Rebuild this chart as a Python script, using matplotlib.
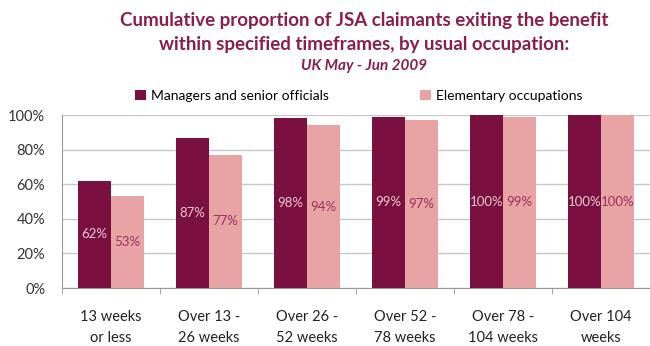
import numpy as np
import matplotlib.pyplot as plt
from matplotlib.ticker import FixedLocator

plt.rcParams['font.family'] = ['Lato', 'DejaVu Sans']

categories = ['13 weeks\nor less', 'Over 13 -\n26 weeks', 'Over 26 -\n52 weeks',
              'Over 52 -\n78 weeks', 'Over 78 -\n104 weeks', 'Over 104\nweeks']
managers = [62, 87, 98, 99, 100, 100]
elementary = [53, 77, 94, 97, 99, 100]
series_names = ['Managers and senior officials', 'Elementary occupations']

dark = '#7a1040'
light = '#e8a4a4'
title_col = '#8a1f4e'

fig = plt.figure(figsize=(6.5, 3.46), dpi=100)
ax = fig.add_axes([0.0954, 0.1676, 0.9046, 0.5])

x = np.arange(len(categories))
w = 0.335
b1 = ax.bar(x - w / 2, managers, w, color=dark, zorder=3, label=series_names[0])
b2 = ax.bar(x + w / 2, elementary, w, color=light, zorder=3, label=series_names[1])

# value labels sit halfway up each bar
for rect, v in zip(b1, managers):
    ax.text(rect.get_x() + rect.get_width() / 2, v / 2, f'{v}%', ha='center', va='center',
            fontsize=9.5, color='#f2cad4', zorder=4)
for rect, v in zip(b2, elementary):
    ax.text(rect.get_x() + rect.get_width() / 2, v / 2, f'{v}%', ha='center', va='center',
            fontsize=9.5, color='#9a3060', zorder=4)

ax.set_xlim(-0.5, len(categories) - 0.5)
ax.set_ylim(0, 100)
ax.set_yticks(range(0, 101, 20))
ax.set_yticklabels([f'{t}%' for t in range(0, 101, 20)], fontsize=10.5, color='#333333')
ax.yaxis.grid(True, color='#c8c8c8', linewidth=1, zorder=0)
ax.tick_params(axis='y', length=0, pad=12)

ax.set_xticks(x)
ax.set_xticklabels(categories, fontsize=10.5, color='#222222', linespacing=1.6)
ax.tick_params(axis='x', which='major', length=0, pad=16)
ax.xaxis.set_minor_locator(FixedLocator(np.arange(-0.5, len(categories), 1.0)))
ax.tick_params(axis='x', which='minor', length=4, color='#999999')

for s in ['top', 'right']:
    ax.spines[s].set_visible(False)
ax.spines['left'].set_color('#999999')
ax.spines['bottom'].set_color('#999999')

fig.text(0.56, 0.942, 'Cumulative proportion of JSA claimants exiting the benefit',
         ha='center', va='center', fontsize=13.5, fontweight='bold', color=title_col)
fig.text(0.56, 0.87, 'within specified timeframes, by usual occupation:',
         ha='center', va='center', fontsize=13.5, fontweight='bold', color=title_col)
fig.text(0.56, 0.808, 'UK May - Jun 2009', ha='center', va='center', fontsize=11,
         fontweight='bold', fontstyle='italic', color=title_col)

fig.legend(handles=[b1, b2], loc='center', bbox_to_anchor=(0.552, 0.723), ncol=2,
           frameon=False, fontsize=10, handlelength=0.8, handleheight=0.8,
           handletextpad=0.4, columnspacing=6.5)

fig.savefig('out.png', dpi=100)
